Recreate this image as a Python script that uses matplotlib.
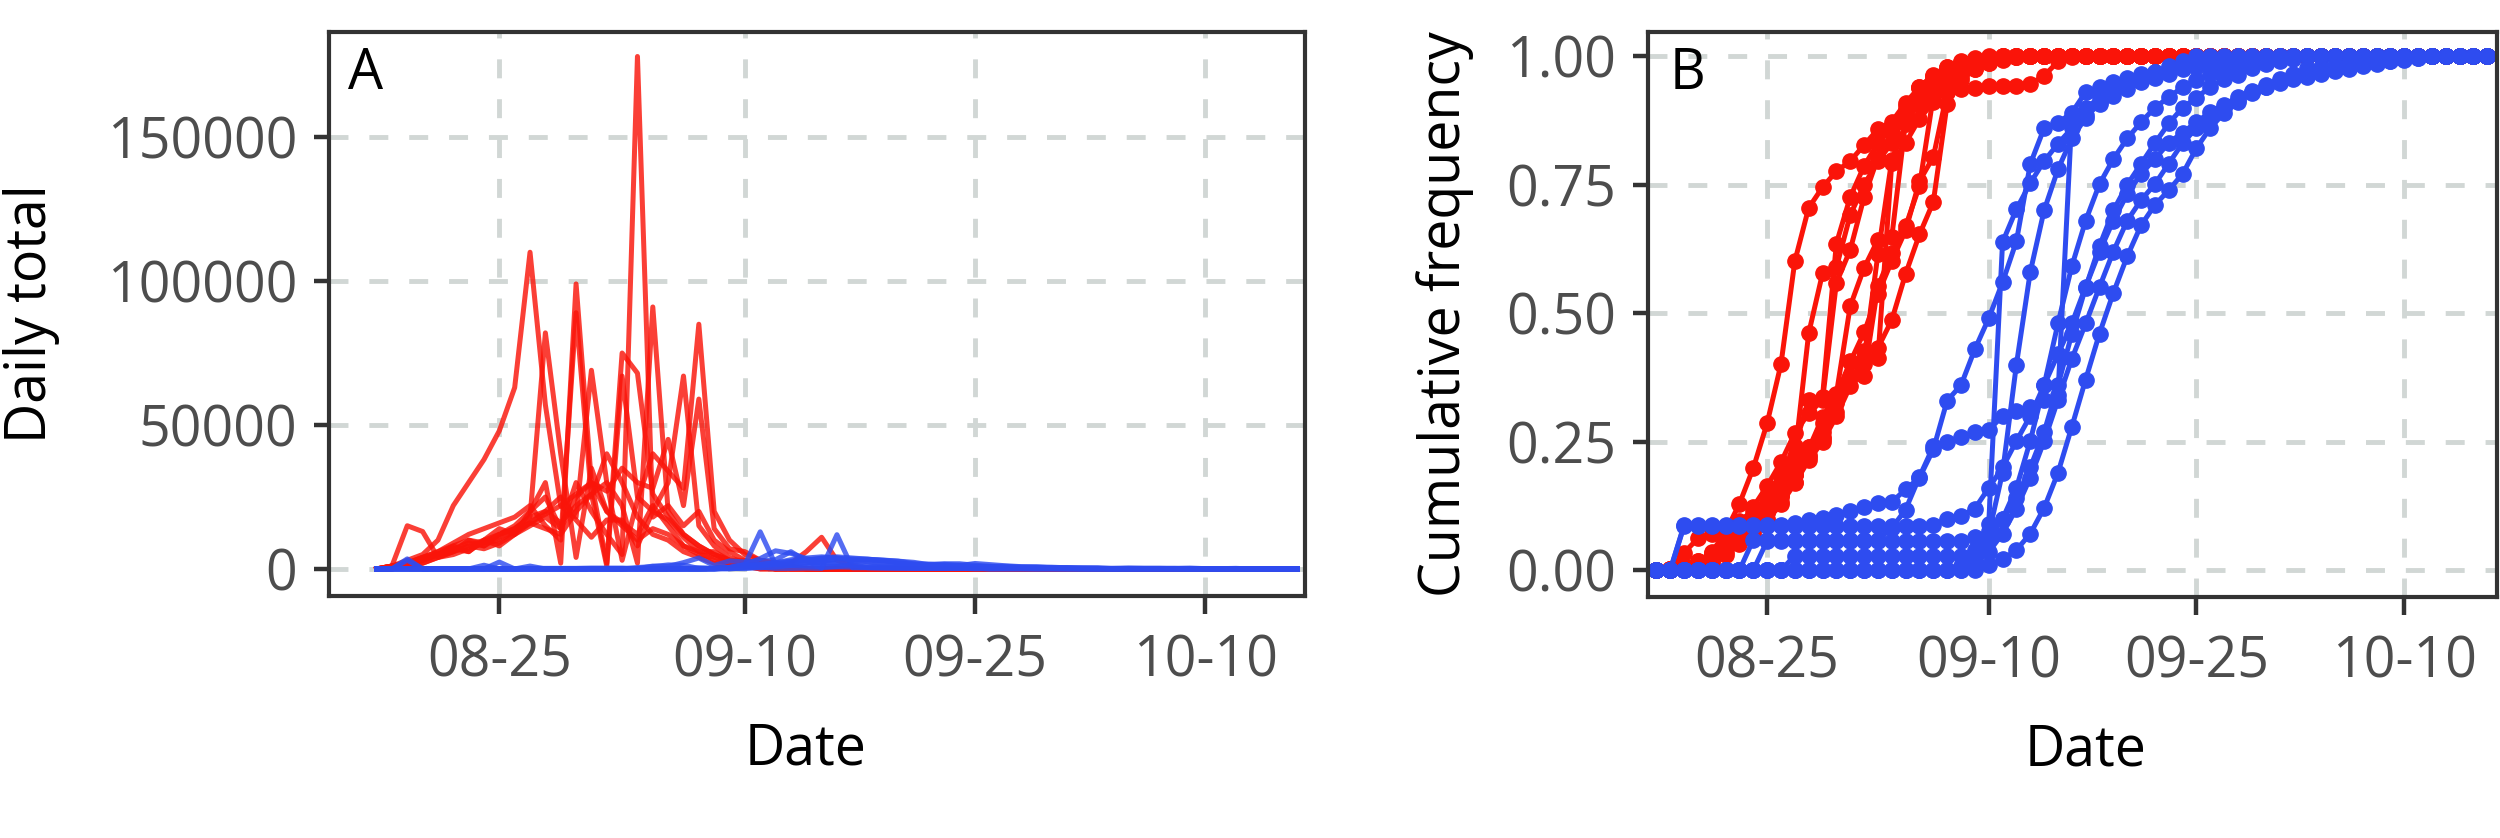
import numpy as np
import matplotlib.pyplot as plt
import matplotlib.dates as mdates

plt.rcParams['font.family'] = ['Open Sans', 'DejaVu Sans']

# one value per day, 08-17 .. 10-16
dates = np.arange(np.datetime64('2017-08-17'), np.datetime64('2017-10-17'))

# red group, daily totals in thousands
red_1 = [0, 1, 3, 5, 10, 22, 30, 38, 48, 63, 110, 57, 22, 17, 11, 17, 17, 8, 20, 17,
         11, 6, 6, 3, 3, 2, 1, 1] + [0] * 33
red_2 = [0, 1, 2, 4, 6, 8, 10, 9, 12, 15, 20, 25, 14, 30, 20, 12, 5, 178, 18, 22,
         15, 20, 10, 6, 3, 2, 1] + [0] * 34
red_3 = [0, 0, 2, 3, 5, 8, 6, 10, 14, 12, 20, 30, 2, 99, 30, 20, 15, 10, 14, 12,
         8, 5, 4, 2, 1] + [0] * 36
red_4 = [0, 1, 2, 4, 6, 9, 12, 14, 16, 18, 22, 15, 10, 89, 25, 40, 30, 18, 12, 10,
         6, 4, 2, 1, 1, 0, 0, 2, 6, 11, 3, 1] + [0] * 29
red_5 = [0, 0, 1, 3, 5, 7, 6, 10, 12, 14, 18, 82, 40, 4, 35, 20, 16, 12, 22, 15,
         8, 6, 3, 2, 1, 1] + [0] * 35
red_6 = [0, 1, 2, 3, 5, 7, 9, 8, 11, 13, 16, 20, 25, 18, 69, 30, 22, 2, 91, 20,
         12, 8, 5, 3, 2, 1] + [0] * 35
red_7 = [0, 0, 1, 2, 4, 6, 8, 7, 9, 12, 15, 18, 14, 25, 30, 2, 75, 68, 26, 18,
         12, 8, 5, 3, 2, 1] + [0] * 35
red_8 = [0, 1, 2, 4, 5, 6, 8, 10, 8, 12, 16, 14, 12, 20, 26, 1, 67, 25, 20, 30,
         67, 15, 8, 4, 2, 1] + [0] * 35
red_9 = [0, 0, 1, 2, 4, 6, 10, 8, 12, 14, 18, 20, 16, 22, 26, 30, 3, 24, 40, 34,
         28, 85, 20, 10, 5, 3, 2, 1] + [0] * 33
red_10 = [0, 1, 15, 13, 4, 5, 7, 9, 10, 13, 16, 19, 22, 26, 30, 27, 35, 30, 28, 45,
          22, 59, 14, 7, 6, 3, 2, 1] + [0] * 33

# blue group, daily totals in hundreds
blue_1 = [0, 0, 35, 0, 0, 0, 0, 0, 0, 0, 2, 2, 2, 2, 3, 3, 3, 1, 10, 9,
          22, 38, 12, 28, 24, 28, 32, 60, 28, 4, 8, 16, 4, 4, 3, 3, 2, 2, 2, 2,
          1, 1, 1, 1, 1, 1] + [0] * 15
blue_2 = [0, 0, 30] + [0] * 17 + [1, 4, 2, 5, 14, 14, 18, 17, 21, 21,
                                 21, 25, 24, 21, 18, 14, 10, 11, 7, 7,
                                 7, 5, 5, 4, 3, 3, 3, 2, 2, 2,
                                 2, 2, 1, 1, 1, 1, 1] + [0] * 4
blue_3 = [0] * 22 + [2, 4, 15, 129, 15, 12, 10, 8, 7, 6, 5, 4, 3, 3, 2, 2, 2,
                    1, 1, 1, 1, 1, 1] + [0] * 16
blue_4 = [0] * 7 + [13] + [0] * 9 + [5, 8, 14, 13, 2, 2, 2, 1, 6, 2, 2, 3, 2, 119,
                                    4, 4, 3, 3, 2, 2, 2, 2, 1, 1, 1, 1] + [0] * 18
blue_5 = [0] * 10 + [10] + [0] * 12 + [4, 7, 14, 21, 32, 38, 42, 39, 31, 25, 17, 14,
                                      11, 10, 7, 7, 5, 4, 3, 2, 2, 2, 2, 1] + [0] * 14
blue_6 = [0] * 8 + [24] + [0] * 14 + [3, 5, 10, 17, 25, 29, 38, 42, 38, 34, 29, 21,
                                     17, 17, 16, 13, 8, 9, 6, 4, 5, 4, 2, 2, 2] + [0] * 13
blue_7 = [0] * 23 + [6, 15, 36, 63, 54, 36, 24, 18, 12, 9, 6, 6, 3, 3, 3, 3,
                    3] + [0] * 21
blue_8 = [0] * 22 + [2, 5, 9, 16, 22, 27, 32, 36, 36, 31, 32, 31, 27, 18, 14, 18, 18,
                    13, 9, 9, 7, 7, 4, 5, 2, 2, 2, 3, 2, 2, 2, 3, 1, 1, 2] + [0] * 4
blue_9 = [0] * 24 + [4, 4, 7, 12, 19, 26, 34, 35, 34, 30, 27, 23, 15, 11, 12, 19, 15,
                    11, 8, 7, 6, 4, 4, 4, 1, 2, 2, 2, 2] + [0] * 8

red_series = [red_1, red_2, red_3, red_4, red_5, red_6, red_7, red_8, red_9, red_10]
blue_series = [blue_1, blue_2, blue_3, blue_4, blue_5, blue_6, blue_7, blue_8, blue_9]

RED = '#fa1409'
BLUE = '#2e4cf0'
FS = 40

fig = plt.figure(figsize=(25, 8.38), dpi=100)
ax_a = fig.add_axes([329 / 2500, 242 / 838, 976 / 2500, 564 / 838])
ax_b = fig.add_axes([1648 / 2500, 241 / 838, 849 / 2500, 565 / 838])

# panel A: daily totals
for s in red_series:
    ax_a.plot(dates, np.array(s) * 1000, color=RED, lw=3.6, alpha=0.82)
for s in blue_series:
    ax_a.plot(dates, np.array(s) * 100, color=BLUE, lw=3.6, alpha=0.82)

# panel B: cumulative frequency of the same series
for s in red_series:
    v = np.array(s, dtype=float)
    ax_b.plot(dates, np.cumsum(v) / v.sum(), '-o', color=RED, lw=3.6, ms=11)
for s in blue_series:
    v = np.array(s, dtype=float)
    ax_b.plot(dates, np.cumsum(v) / v.sum(), '-o', color=BLUE, lw=3.6, ms=11)

d0 = mdates.date2num(dates[0])
ax_a.set_xlim(d0 - 3.1, d0 + 60.5)
ax_a.set_ylim(-9400, 186500)
ax_b.set_xlim(d0 - 0.6, d0 + 60.7)
ax_b.set_ylim(-0.052, 1.047)

tick_dates = [np.datetime64('2017-08-25'), np.datetime64('2017-09-10'),
              np.datetime64('2017-09-25'), np.datetime64('2017-10-10')]

for ax in (ax_a, ax_b):
    ax.set_xticks(tick_dates)
    ax.xaxis.set_major_formatter(mdates.DateFormatter('%m-%d'))
    for sp in ax.spines.values():
        sp.set_linewidth(3)
        sp.set_color('#333333')
    ax.grid(True, color='#d1d7d5', lw=3.5, linestyle=(0, (3.9, 4.3)))
    ax.set_axisbelow(True)
    ax.tick_params(axis='both', width=3.2, color='#333333', labelsize=FS,
                   labelcolor='#4d4d4d')
    ax.tick_params(axis='x', length=13, pad=14)
    ax.tick_params(axis='y', length=11, pad=12)

ax_a.set_yticks([0, 50000, 100000, 150000])
ax_a.set_yticklabels(['0', '50000', '100000', '150000'])
ax_b.set_yticks([0, 0.25, 0.5, 0.75, 1.0])
ax_b.set_yticklabels(['0.00', '0.25', '0.50', '0.75', '1.00'])

ax_a.set_ylabel('Daily total', fontsize=FS, va='center')
ax_a.yaxis.set_label_coords(-0.305, 0.5)
ax_b.set_ylabel('Cumulative frequency', fontsize=FS, va='center')
ax_b.yaxis.set_label_coords(-0.239, 0.5)
ax_a.set_xlabel('Date', fontsize=FS, va='top')
ax_a.xaxis.set_label_coords(0.488, -0.222)
ax_b.set_xlabel('Date', fontsize=FS, va='top')
ax_b.xaxis.set_label_coords(0.515, -0.222)

ax_a.text(0.0196, 0.975, 'A', transform=ax_a.transAxes, ha='left', va='top',
          fontsize=FS)
ax_b.text(0.026, 0.975, 'B', transform=ax_b.transAxes, ha='left', va='top',
          fontsize=FS)

fig.savefig('out.png', dpi=100, facecolor='white')
